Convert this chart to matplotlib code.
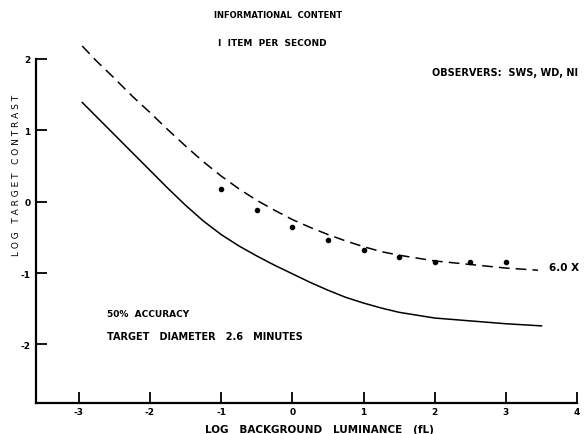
import matplotlib
matplotlib.use('Agg')
from matplotlib import pyplot as plt

plt.rcParams['axes.unicode_minus'] = False
plt.rcParams['font.family'] = 'DejaVu Sans'

# curves (log background luminance vs log target contrast)
SOLID_X = [-2.95, -2.75, -2.5, -2.25, -2.0, -1.75, -1.5, -1.25, -1.0, -0.75, -0.5, -0.25,
           0.0, 0.25, 0.5, 0.75, 1.0, 1.25, 1.5, 1.75, 2.0, 2.5, 3.0, 3.5]
SOLID_Y = [1.39, 1.19, 0.94, 0.69, 0.44, 0.19, -0.05, -0.27, -0.46, -0.62, -0.76, -0.89,
           -1.01, -1.13, -1.24, -1.34, -1.42, -1.49, -1.55, -1.59, -1.63, -1.67, -1.71, -1.74]
DASHED_X = [-2.95, -2.75, -2.5, -2.25, -2.0, -1.75, -1.5, -1.25, -1.0, -0.75, -0.5, -0.25,
            0.0, 0.25, 0.5, 0.75, 1.0, 1.25, 1.5, 1.75, 2.0, 2.5, 3.0, 3.45]
DASHED_Y = [2.18, 1.97, 1.73, 1.48, 1.25, 1.01, 0.78, 0.56, 0.36, 0.18, 0.02, -0.12,
            -0.25, -0.36, -0.46, -0.55, -0.63, -0.70, -0.75, -0.79, -0.83, -0.88, -0.93, -0.96]

# observed points
OBS_X = [-1.0, -0.5, 0.0, 0.5, 1.0, 1.5, 2.0, 2.5, 3.0]
OBS_Y = [0.18, -0.11, -0.35, -0.53, -0.67, -0.78, -0.84, -0.85, -0.85]

X_TICKS = [-3, -2, -1, 0, 1, 2, 3, 4]
Y_TICKS = [-2, -1, 0, 1, 2]


def draw_axes(ax):
    ax.set_xlim(-3.6, 4.0)
    ax.set_ylim(-2.82, 2.0)
    for side in ['top', 'right']:
        ax.spines[side].set_visible(False)
    ax.spines['left'].set_linewidth(1.6)
    ax.spines['bottom'].set_linewidth(1.6)

    ax.set_xticks(X_TICKS)
    ax.set_xticklabels([str(t) for t in X_TICKS], fontweight='bold', fontsize=6.5)
    ax.set_yticks(Y_TICKS)
    ax.set_yticklabels([str(t) for t in Y_TICKS], fontweight='bold', fontsize=6.5)
    ax.tick_params(axis='both', direction='in', length=8, width=1.3, pad=3)
    ax.tick_params(axis='y', pad=4)


def main():
    fig = plt.figure(figsize=(5.85, 4.35), dpi=100)
    ax = fig.add_axes([0.0615, 0.0713, 0.925, 0.791])
    draw_axes(ax)

    ax.plot(SOLID_X, SOLID_Y, color='black', lw=1.1, clip_on=False)
    ax.plot(DASHED_X, DASHED_Y, color='black', lw=1.1, dashes=(7, 4), clip_on=False)
    ax.plot(OBS_X, OBS_Y, 'o', color='black', ms=3, clip_on=False)

    bold = {'fontweight': 'bold', 'fontsize': 6.5}
    fig.text(278 / 585, 1 - 15 / 435, 'INFORMATIONAL  CONTENT', ha='center', va='center',
             fontweight='bold', fontsize=6)
    fig.text(218 / 585, 1 - 43 / 435, 'I  ITEM  PER  SECOND', ha='left', va='center', **bold)
    fig.text(578 / 585, 1 - 73 / 435, 'OBSERVERS:  SWS, WD, NI', ha='right', va='center',
             fontweight='bold', fontsize=7)
    fig.text(549 / 585, 1 - 268 / 435, '6.0 X', ha='left', va='center', fontweight='bold', fontsize=7.5)
    fig.text(107 / 585, 1 - 315 / 435, '50%  ACCURACY', ha='left', va='center', **bold)
    fig.text(107 / 585, 1 - 337 / 435, 'TARGET   DIAMETER   2.6   MINUTES', ha='left', va='center',
             fontweight='bold', fontsize=7)

    fig.text(17 / 585, 1 - 175 / 435, 'L O G   T A R G E T   C O N T R A S T', rotation=90,
             ha='center', va='center', fontsize=6.5)
    fig.text(319 / 585, 1 - 430 / 435, 'LOG   BACKGROUND   LUMINANCE   (fL)', ha='center', va='center',
             fontweight='bold', fontsize=7.5)

    plt.savefig('out.png', dpi=100)
    plt.close()


if __name__ == '__main__':
    main()
